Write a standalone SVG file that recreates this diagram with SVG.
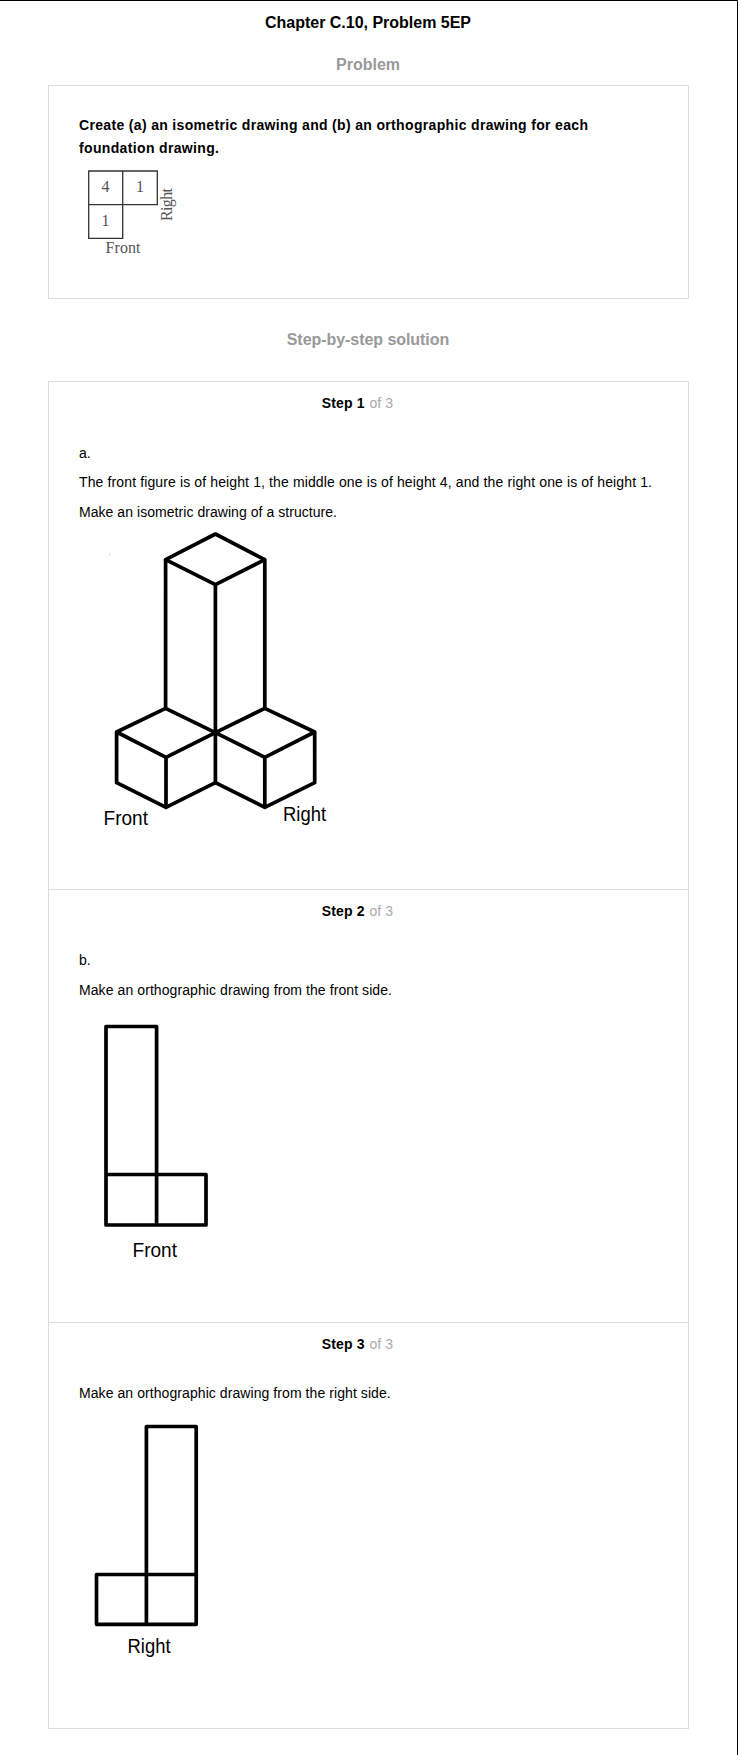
<svg xmlns="http://www.w3.org/2000/svg" width="738" height="1755" viewBox="0 0 738 1755">
<style>
text{font-family:"Liberation Sans",Arial,sans-serif;fill:#000}
.t{font-size:14px}
.b{font-weight:bold}
.c{text-anchor:middle}
.h{font-size:16px;font-weight:bold;fill:#999}
.g{fill:#aaa}
.box{fill:#fff;stroke:#ddd;stroke-width:1}
.div{stroke:#ddd;stroke-width:1}
.draw{fill:none;stroke:#000;stroke-width:3.7;stroke-linejoin:round;stroke-linecap:round}
.lab{font-size:20.5px}
.fnd{fill:none;stroke:#333;stroke-width:1.3}
.sf{font-family:"Liberation Serif",serif;font-size:16px;fill:#555}
</style>
<rect width="738" height="1755" fill="#fff"/>
<path d="M0 .5H737.5V1755" fill="none" stroke="#000" stroke-width="1"/>
<g id="header">
<text class="b c" x="368" y="28" font-size="16" textLength="206">Chapter C.10, Problem 5EP</text>
<text class="h c" x="368" y="70">Problem</text>
</g>
<g id="problem">
<rect class="box" x="48.5" y="85.5" width="640" height="213"/>
<text class="t b" x="79" y="129.5" textLength="509">Create (a) an isometric drawing and (b) an orthographic drawing for each</text>
<text class="t b" x="79" y="152.5" textLength="140">foundation drawing.</text>
</g>
<g id="foundation">
<path class="fnd" d="M88.7 171H157.3V204.7H88.7ZM88.7 171V238.3H122.7V171"/>
<text class="sf c" x="105.5" y="192">4</text>
<text class="sf c" x="140" y="192">1</text>
<text class="sf c" x="105.5" y="226">1</text>
<text class="sf" x="105.5" y="253" textLength="35">Front</text>
<text class="sf" transform="translate(171.5 221) rotate(-90)" textLength="33">Right</text>
</g>
<text class="h c" x="368" y="345" textLength="162.5">Step-by-step solution</text>
<g id="steps-frame">
<rect class="box" x="48.5" y="381.5" width="640" height="1347"/>
<path class="div" d="M48.5 889.5H688.5M48.5 1322.5H688.5"/>
</g>
<g id="step1">
<text class="t b" x="321.8" y="408" textLength="42.7">Step 1</text>
<text class="t g" x="369.5" y="408" textLength="23.6">of 3</text>
<text class="t" x="79" y="457.5">a.</text>
<text class="t" x="79" y="486.7" textLength="573">The front figure is of height 1, the middle one is of height 4, and the right one is of height 1.</text>
<text class="t" x="79" y="516.7" textLength="258">Make an isometric drawing of a structure.</text>
<rect x="109" y="553" width="1" height="3" fill="#dcdcf0"/>
<g id="isometric">
<path class="draw" d="M215.4 534L264.8 559.7L215.4 584.7L165.6 559.7ZM165.6 559.7V708.3M264.8 559.7V708.3M215.4 584.7V782.7"/>
<path class="draw" d="M165.6 708.3L116.6 732L166 757.3L215.4 732.7ZM116.6 732V782.7L166 807.3L215.4 782.7M166 757.3V807.3"/>
<path class="draw" d="M264.8 708.3L314.7 732L264.8 757.3L215.4 732.7ZM314.7 732V782.7L264.8 807.3L215.4 782.7M264.8 757.3V807.3"/>
</g>
<text class="lab" x="103.5" y="825" textLength="44.5" lengthAdjust="spacingAndGlyphs">Front</text>
<text class="lab" x="283" y="820.7" textLength="43" lengthAdjust="spacingAndGlyphs">Right</text>
</g>
<g id="step2">
<text class="t b" x="321.8" y="916" textLength="42.7">Step 2</text>
<text class="t g" x="369.5" y="916" textLength="23.6">of 3</text>
<text class="t" x="79" y="965.3">b.</text>
<text class="t" x="79" y="995.3" textLength="313">Make an orthographic drawing from the front side.</text>
<g id="front-view">
<path class="draw" d="M106 1026.5H156.6V1225H106ZM106 1174.5H206V1225H156.6"/>
</g>
<text class="lab" x="132.5" y="1256.7" textLength="44.5" lengthAdjust="spacingAndGlyphs">Front</text>
</g>
<g id="step3">
<text class="t b" x="321.8" y="1349.3" textLength="42.7">Step 3</text>
<text class="t g" x="369.5" y="1349.3" textLength="23.6">of 3</text>
<text class="t" x="79" y="1398" textLength="311.7">Make an orthographic drawing from the right side.</text>
<g id="right-view">
<path class="draw" d="M146.4 1426.5H196.2V1624.3H146.4ZM96.5 1574.5H196.2V1624.3H96.5Z"/>
</g>
<text class="lab" x="127.5" y="1653.3" textLength="43" lengthAdjust="spacingAndGlyphs">Right</text>
</g>
</svg>
